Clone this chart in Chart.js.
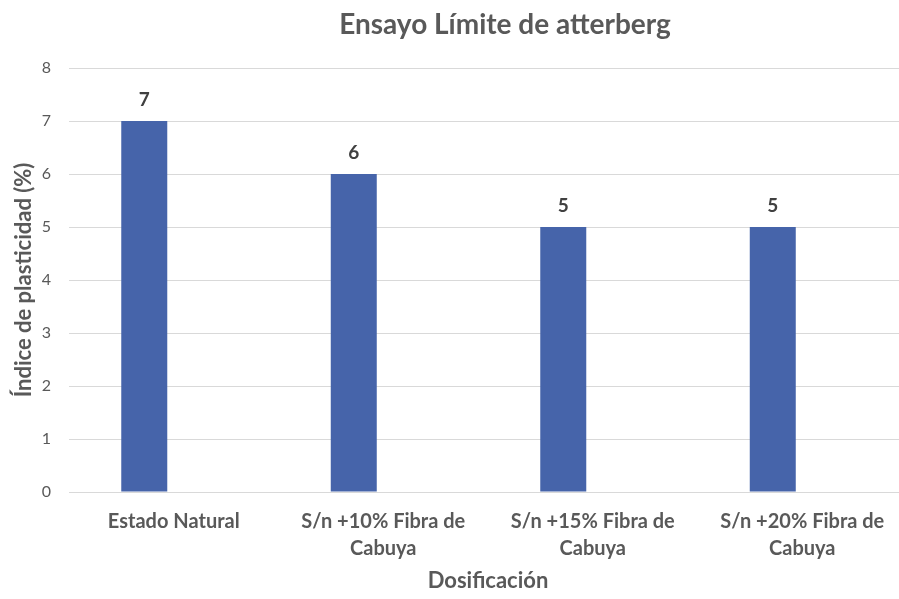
<!DOCTYPE html>
<html>
<head>
<meta charset="utf-8">
<script src="https://cdn.jsdelivr.net/npm/chart.js@4"></script>
<style>
  html, body { margin: 0; padding: 0; background: #ffffff; overflow: hidden; }
  #wrap { width: 907px; height: 599px; }
</style>
</head>
<body>
<div id="wrap"><canvas id="chart" width="907" height="599"></canvas></div>
<script>
// Plasticity index per fibre dosage
const chartTitle = 'Ensayo Límite de atterberg';
const categories = [
  'Estado Natural',
  ['S/n +10% Fibra de', 'Cabuya'],
  ['S/n +15% Fibra de', 'Cabuya'],
  ['S/n +20% Fibra de', 'Cabuya']
];
const plasticityIndex = [7, 6, 5, 5];
const emptySeries = [null, null, null, null];
const yTicks = [0, 1, 2, 3, 4, 5, 6, 7, 8];

const FONT = 'Lato, "Open Sans", sans-serif';
const GREY = '#595959';

// Chart title drawn centred over the plot
const titlePlugin = {
  id: 'plotTitle',
  afterDraw(chart) {
    const ctx = chart.ctx;
    ctx.save();
    ctx.font = 'bold 28px ' + FONT;
    ctx.fillStyle = GREY;
    ctx.textAlign = 'center';
    ctx.textBaseline = 'alphabetic';
    ctx.fillText(chartTitle, 505, 34);
    ctx.restore();
  }
};

// Value labels above each bar
const valueLabels = {
  id: 'valueLabels',
  afterDatasetsDraw(chart) {
    const ctx = chart.ctx;
    const meta = chart.getDatasetMeta(0);
    ctx.save();
    ctx.font = 'bold 19px ' + FONT;
    ctx.fillStyle = '#404040';
    ctx.textAlign = 'center';
    ctx.textBaseline = 'alphabetic';
    meta.data.forEach((bar, i) => {
      ctx.fillText(String(plasticityIndex[i]), bar.x, bar.y - 15);
    });
    ctx.restore();
  }
};

new Chart(document.getElementById('chart'), {
  type: 'bar',
  data: {
    labels: categories,
    datasets: [
      {
        label: 'Índice de plasticidad',
        data: plasticityIndex,
        backgroundColor: '#4664AA',
        borderWidth: 0
      },
      {
        label: '',
        data: emptySeries,
        backgroundColor: '#ED7D31'
      }
    ]
  },
  options: {
    responsive: false,
    animation: false,
    devicePixelRatio: 1,
    categoryPercentage: 0.563,
    barPercentage: 0.78,
    layout: { padding: { top: 68, left: 11, right: 0, bottom: 5 } },
    plugins: {
      legend: { display: false },
      title: { display: false },
      tooltip: { enabled: false }
    },
    scales: {
      x: {
        grid: { display: false, drawTicks: false },
        border: { display: false },
        afterFit(scale) { scale.height = 102; },
        ticks: {
          color: GREY,
          font: { family: FONT, size: 20, weight: 'bold', lineHeight: 1.35 },
          padding: 16,
          maxRotation: 0,
          autoSkip: false
        },
        title: {
          display: true,
          text: 'Dosificación',
          color: GREY,
          font: { family: FONT, size: 22, weight: 'bold' },
          padding: { top: 0, bottom: 0 }
        }
      },
      y: {
        min: yTicks[0],
        max: yTicks[yTicks.length - 1],
        afterBuildTicks(scale) {
          scale.ticks = yTicks.map(v => ({ value: v }));
        },
        afterFit(scale) { scale.width = 58; },
        grid: { color: '#D9D9D9', lineWidth: 1, drawTicks: false },
        border: { display: false },
        ticks: {
          color: GREY,
          font: { family: FONT, size: 16 },
          padding: 18
        },
        title: {
          display: true,
          text: 'Índice de plasticidad (%)',
          color: GREY,
          font: { family: FONT, size: 22, weight: 'bold' },
          padding: { top: 0, bottom: 0 }
        }
      }
    }
  },
  plugins: [titlePlugin, valueLabels]
});
</script>
</body>
</html>
